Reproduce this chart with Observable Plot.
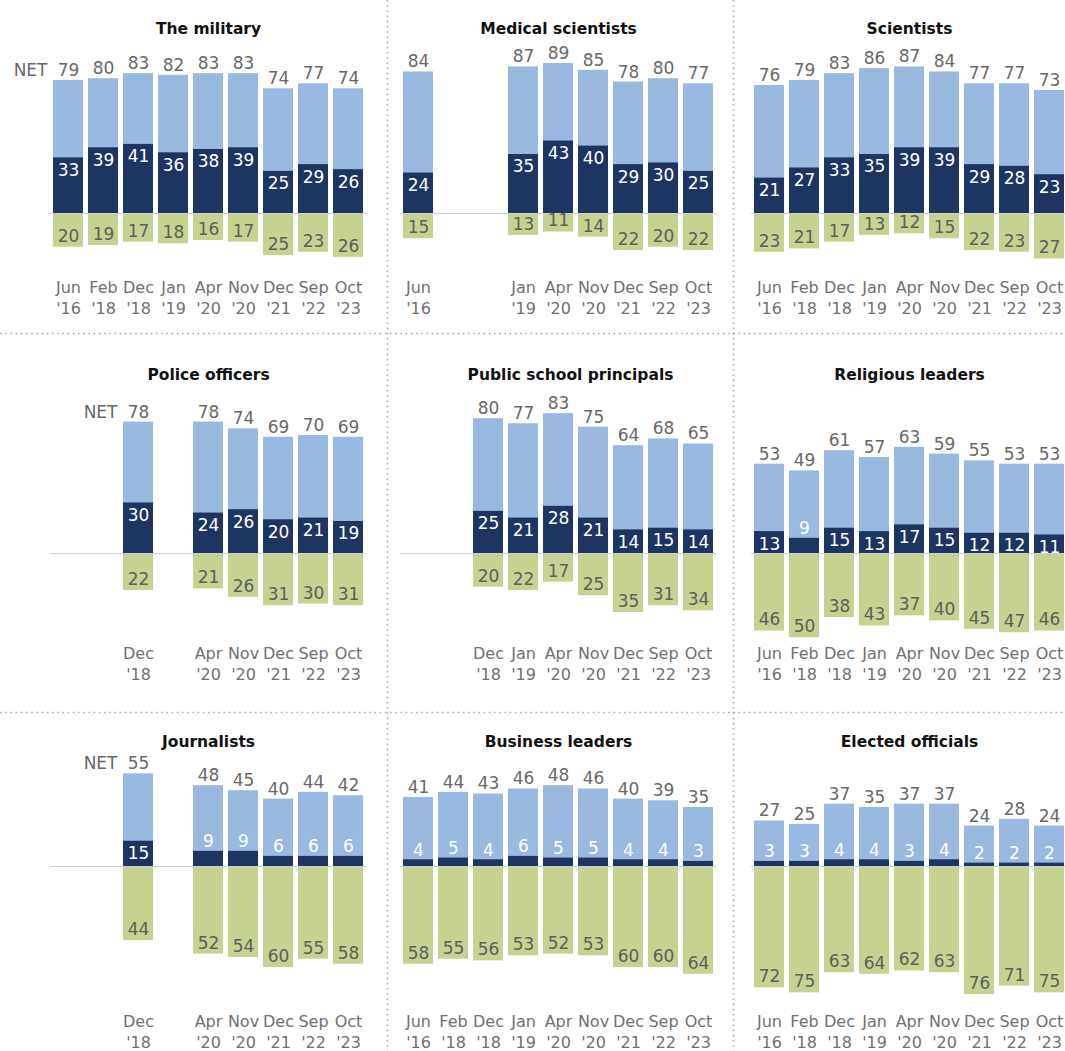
<!DOCTYPE html>
<html>
<head>
<meta charset="utf-8">
<script src="https://cdn.jsdelivr.net/npm/d3@7"></script>
<script src="https://cdn.jsdelivr.net/npm/@observablehq/plot@0.6"></script>
<style>
  html, body { margin: 0; padding: 0; background: #fff; }
  #chart { position: relative; width: 1065px; height: 1051px; overflow: hidden; background: #fff; }
  .panel { position: absolute; }
  .grid { position: absolute; left: 0; top: 0; }
</style>
</head>
<body>
<div id="chart"></div>
<script>
// Survey waves shared by every panel
const surveyDates = ["Jun '16", "Feb '18", "Dec '18", "Jan '19", "Apr '20", "Nov '20", "Dec '21", "Sep '22", "Oct '23"];

// The military
const militaryDates = surveyDates;
const militaryNet = [79, 80, 83, 82, 83, 83, 74, 77, 74];
const militaryGreatDeal = [33, 39, 41, 36, 38, 39, 25, 29, 26];
const militaryNotMuch = [20, 19, 17, 18, 16, 17, 25, 23, 26];

// Medical scientists
const medicalDates = ["Jun '16", "Jan '19", "Apr '20", "Nov '20", "Dec '21", "Sep '22", "Oct '23"];
const medicalNet = [84, 87, 89, 85, 78, 80, 77];
const medicalGreatDeal = [24, 35, 43, 40, 29, 30, 25];
const medicalNotMuch = [15, 13, 11, 14, 22, 20, 22];

// Scientists
const scientistsDates = surveyDates;
const scientistsNet = [76, 79, 83, 86, 87, 84, 77, 77, 73];
const scientistsGreatDeal = [21, 27, 33, 35, 39, 39, 29, 28, 23];
const scientistsNotMuch = [23, 21, 17, 13, 12, 15, 22, 23, 27];

// Police officers
const policeDates = ["Dec '18", "Apr '20", "Nov '20", "Dec '21", "Sep '22", "Oct '23"];
const policeNet = [78, 78, 74, 69, 70, 69];
const policeGreatDeal = [30, 24, 26, 20, 21, 19];
const policeNotMuch = [22, 21, 26, 31, 30, 31];

// Public school principals
const principalsDates = ["Dec '18", "Jan '19", "Apr '20", "Nov '20", "Dec '21", "Sep '22", "Oct '23"];
const principalsNet = [80, 77, 83, 75, 64, 68, 65];
const principalsGreatDeal = [25, 21, 28, 21, 14, 15, 14];
const principalsNotMuch = [20, 22, 17, 25, 35, 31, 34];

// Religious leaders
const religiousDates = surveyDates;
const religiousNet = [53, 49, 61, 57, 63, 59, 55, 53, 53];
const religiousGreatDeal = [13, 9, 15, 13, 17, 15, 12, 12, 11];
const religiousNotMuch = [46, 50, 38, 43, 37, 40, 45, 47, 46];

// Journalists
const journalistsDates = ["Dec '18", "Apr '20", "Nov '20", "Dec '21", "Sep '22", "Oct '23"];
const journalistsNet = [55, 48, 45, 40, 44, 42];
const journalistsGreatDeal = [15, 9, 9, 6, 6, 6];
const journalistsNotMuch = [44, 52, 54, 60, 55, 58];

// Business leaders
const businessDates = surveyDates;
const businessNet = [41, 44, 43, 46, 48, 46, 40, 39, 35];
const businessGreatDeal = [4, 5, 4, 6, 5, 5, 4, 4, 3];
const businessNotMuch = [58, 55, 56, 53, 52, 53, 60, 60, 64];

// Elected officials
const electedDates = surveyDates;
const electedNet = [27, 25, 37, 35, 37, 37, 24, 28, 24];
const electedGreatDeal = [3, 3, 4, 4, 3, 4, 2, 2, 2];
const electedNotMuch = [72, 75, 63, 64, 62, 63, 76, 71, 75];

const panels = [
  {title: "The military", dates: militaryDates, net: militaryNet, great: militaryGreatDeal, low: militaryNotMuch},
  {title: "Medical scientists", dates: medicalDates, net: medicalNet, great: medicalGreatDeal, low: medicalNotMuch},
  {title: "Scientists", dates: scientistsDates, net: scientistsNet, great: scientistsGreatDeal, low: scientistsNotMuch},
  {title: "Police officers", dates: policeDates, net: policeNet, great: policeGreatDeal, low: policeNotMuch},
  {title: "Public school principals", dates: principalsDates, net: principalsNet, great: principalsGreatDeal, low: principalsNotMuch},
  {title: "Religious leaders", dates: religiousDates, net: religiousNet, great: religiousGreatDeal, low: religiousNotMuch},
  {title: "Journalists", dates: journalistsDates, net: journalistsNet, great: journalistsGreatDeal, low: journalistsNotMuch},
  {title: "Business leaders", dates: businessDates, net: businessNet, great: businessGreatDeal, low: businessNotMuch},
  {title: "Elected officials", dates: electedDates, net: electedNet, great: electedGreatDeal, low: electedNotMuch}
];

// Page layout
const PX_PER_POINT = 1.685;
const COL_LEFT = [0, 350, 701];
const PANEL_WIDTH = 366;
const MARGIN_LEFT = 50;
const ROWS = [
  {top: 0, height: 334, baseline: 213, titleY: 29, dateY: 287},
  {top: 334, height: 379, baseline: 553, titleY: 375, dateY: 653},
  {top: 713, height: 338, baseline: 866, titleY: 742, dateY: 1021}
];
// The principals heading sits a little right of its panel centre
const TITLE_SHIFT = [0, 0, 0, 0, 12, 0, 0, 0, 0];
const LIGHT = "#9ab9e1";
const NAVY = "#1e3563";
const GREEN = "#c6d28f";
const GRAY = "#686868";
const FONT = "DejaVu Sans";
const NUM_SIZE = 17;
const DATE_SIZE = 16;

const chart = document.getElementById("chart");

// Dotted dividers between the panels
const grid = d3.create("svg").attr("class", "grid").attr("width", 1065).attr("height", 1051);
[387.5, 733.5].forEach(x => grid.append("line").attr("x1", x).attr("x2", x).attr("y1", 0).attr("y2", 1051));
[333.5, 712.5].forEach(y => grid.append("line").attr("x1", 0).attr("x2", 1065).attr("y1", y).attr("y2", y));
grid.selectAll("line").attr("stroke", "#a9a9a9").attr("stroke-width", 1.6).attr("stroke-dasharray", "1.6 3.6");
chart.appendChild(grid.node());

panels.forEach((p, i) => {
  const r = Math.floor(i / 3), c = i % 3;
  const row = ROWS[r];
  const rowPanels = panels.slice(r * 3, r * 3 + 3);
  const hi = d3.max(rowPanels, q => d3.max(q.net));
  const lo = d3.max(rowPanels, q => d3.max(q.low));
  const frameTop = row.baseline - hi * PX_PER_POINT;
  const frameBottom = row.baseline + lo * PX_PER_POINT;
  const marginTop = frameTop - row.top;
  const marginBottom = row.top + row.height - frameBottom;

  const data = p.dates.map((date, j) => ({
    date,
    month: date.split(" ")[0],
    year: date.split(" ")[1],
    net: p.net[j],
    great: p.great[j],
    low: p.low[j]
  }));

  const num = {fontSize: NUM_SIZE};
  const marks = [
    Plot.barY(data, {x: "date", y1: 0, y2: "net", fill: LIGHT}),
    Plot.barY(data, {x: "date", y1: 0, y2: "great", fill: NAVY}),
    Plot.barY(data, {x: "date", y1: d => -d.low, y2: 0, fill: GREEN}),
    Plot.ruleY([0], {stroke: "#cfcfcf", strokeWidth: 1.2}),
    Plot.text(data, {...num, x: "date", y: "net", text: d => String(d.net), dy: -10, fill: GRAY}),
    Plot.text(data.filter(d => d.great >= 10), {...num, x: "date", y: "great", text: d => String(d.great), dy: 12.5, fill: "white"}),
    Plot.text(data.filter(d => d.great < 10), {...num, x: "date", y: "great", text: d => String(d.great), dy: -9.5, fill: "white"}),
    Plot.text(data, {...num, x: "date", y: d => -d.low, text: d => String(d.low), dy: -11, fill: "#5e5e5e"}),
    Plot.text(data, {x: "date", text: "month", frameAnchor: "bottom", lineAnchor: "middle", dy: row.dateY - frameBottom, fontSize: DATE_SIZE, fill: "#707070"}),
    Plot.text(data, {x: "date", text: "year", frameAnchor: "bottom", lineAnchor: "middle", dy: row.dateY + 21 - frameBottom, fontSize: DATE_SIZE, fill: "#707070"}),
    Plot.text([p.title], {text: d => d, frameAnchor: "top", lineAnchor: "middle", dx: TITLE_SHIFT[i], dy: row.titleY - frameTop, fontWeight: "bold", fontSize: 15.5, fill: "#111"})
  ];
  if (c === 0) {
    marks.push(Plot.text(data.slice(0, 1), {...num, x: "date", y: "net", text: () => "NET", textAnchor: "end", dx: -21, dy: -10, fill: GRAY}));
  }

  const svg = Plot.plot({
    width: PANEL_WIDTH,
    height: row.height,
    marginLeft: MARGIN_LEFT,
    marginRight: 0,
    marginTop,
    marginBottom,
    x: {domain: surveyDates, paddingInner: 0.15, paddingOuter: 0.08, axis: null},
    y: {domain: [-lo, hi], axis: null},
    style: {background: "transparent", overflow: "visible", fontFamily: FONT, fontSize: "15px"},
    marks
  });

  const holder = document.createElement("div");
  holder.className = "panel";
  holder.style.left = COL_LEFT[c] + "px";
  holder.style.top = row.top + "px";
  holder.style.width = PANEL_WIDTH + "px";
  holder.appendChild(svg);
  chart.appendChild(holder);
});
</script>
</body>
</html>
